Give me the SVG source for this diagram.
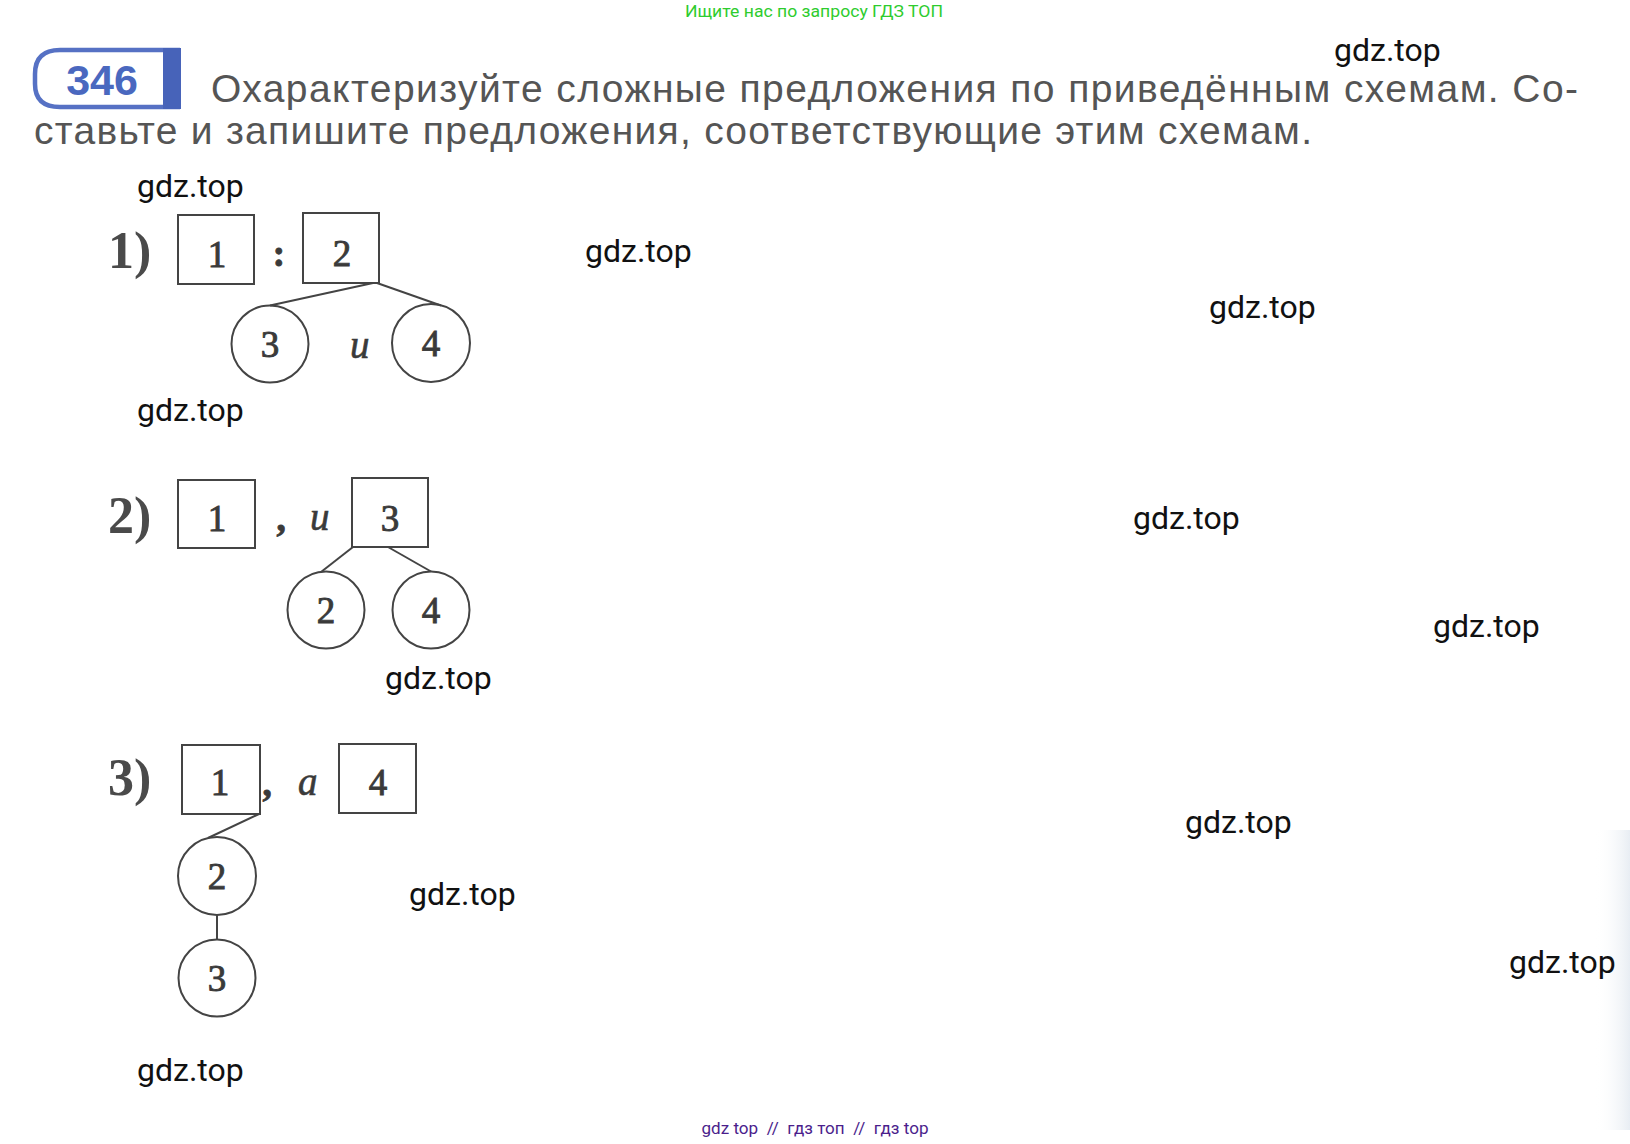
<svg xmlns="http://www.w3.org/2000/svg" width="1630" height="1144" viewBox="0 0 1630 1144">
<defs>
<linearGradient id="edge" x1="0" y1="0" x2="1" y2="0">
<stop offset="0" stop-color="#ffffff" stop-opacity="0"/>
<stop offset="1" stop-color="#e8edf3"/>
</linearGradient>
<style>
.wm{font-family:Roboto,"Noto Sans",sans-serif;font-size:32px;fill:#111}
.title{font-family:"Liberation Sans",Arial,sans-serif;font-size:39px;fill:#555}
.lbl{font-family:"Liberation Serif","Times New Roman",serif;font-size:52px;font-weight:bold;fill:#4a4a4a}
.dig{font-family:"Liberation Serif","Times New Roman",serif;font-size:37px;fill:#3a3a3a;stroke:#3a3a3a;stroke-width:0.9;text-anchor:middle}
.it{font-family:"Liberation Serif","Times New Roman",serif;font-size:39px;font-style:italic;fill:#3a3a3a;stroke:#3a3a3a;stroke-width:0.6}
.box{fill:none;stroke:#444;stroke-width:2}
.circ{fill:none;stroke:#444;stroke-width:2}
.ln{stroke:#444;stroke-width:2;fill:none}
</style>
</defs>
<rect width="1630" height="1144" fill="#ffffff"/>
<rect x="1595" y="830" width="35" height="300" fill="url(#edge)"/>

<text x="814" y="17" text-anchor="middle" textLength="258" lengthAdjust="spacingAndGlyphs" style="font-family:Roboto,sans-serif;font-size:17px;fill:#2ecc2e">Ищите нас по запросу ГДЗ ТОП</text>

<g id="badge">
<path d="M180,50 H60 Q35,50 35,74 V84 Q35,107 60,107 H180" fill="#ffffff" stroke="#5671c4" stroke-width="4.5"/>
<rect x="163" y="48" width="18" height="61" fill="#4763b9"/>
<text x="102" y="95" text-anchor="middle" style="font-family:'Liberation Sans',Arial,sans-serif;font-size:43px;font-weight:bold;fill:#4a68bf">346</text>
</g>

<text class="title" x="211" y="102" textLength="1367" lengthAdjust="spacing">Охарактеризуйте сложные предложения по приведённым схемам. Со-</text>
<text class="title" x="34" y="144" textLength="1278" lengthAdjust="spacing">ставьте и запишите предложения, соответствующие этим схемам.</text>

<g id="scheme1">
<text class="lbl" x="108" y="268">1)</text>
<g id="s1-box1"><rect class="box" x="178" y="215" width="76" height="69"/><text class="dig" x="217" y="267">1</text></g>
<text class="dig" x="279" y="266" style="font-weight:bold">:</text>
<g id="s1-box2"><rect class="box" x="303" y="213" width="76" height="70"/><text class="dig" x="342" y="266">2</text></g>
<g id="s1-c3"><circle class="circ" cx="270" cy="344" r="38.5"/><text class="dig" x="270" y="357">3</text></g>
<text class="it" x="350" y="358">и</text>
<g id="s1-c4"><circle class="circ" cx="431" cy="343" r="39"/><text class="dig" x="431" y="356">4</text></g>
</g>

<g id="scheme2">
<text class="lbl" x="108" y="533">2)</text>
<g id="s2-box1"><rect class="box" x="178" y="480" width="77" height="68"/><text class="dig" x="217" y="531">1</text></g>
<text class="dig" x="281" y="531" style="font-weight:bold">,</text>
<text class="it" x="310" y="530">и</text>
<g id="s2-box3"><rect class="box" x="352" y="478" width="76" height="69"/><text class="dig" x="390" y="531">3</text></g>
<g id="s2-c2"><circle class="circ" cx="326" cy="610" r="38.5"/><text class="dig" x="326" y="623">2</text></g>
<g id="s2-c4"><circle class="circ" cx="431" cy="610" r="38.5"/><text class="dig" x="431" y="623">4</text></g>
</g>

<g id="scheme3">
<text class="lbl" x="108" y="795">3)</text>
<g id="s3-box1"><rect class="box" x="182" y="745" width="78" height="69"/><text class="dig" x="220" y="795">1</text></g>
<text class="dig" x="267" y="796" style="font-weight:bold">,</text>
<text class="it" x="298" y="795">a</text>
<g id="s3-box4"><rect class="box" x="339" y="744" width="77" height="69"/><text class="dig" x="378" y="795">4</text></g>
<g id="s3-c2"><circle class="circ" cx="217" cy="876" r="39"/><text class="dig" x="217" y="889">2</text></g>
<g id="s3-c3"><circle class="circ" cx="217" cy="978" r="38.5"/><text class="dig" x="217" y="991">3</text></g>
</g>

<g id="connectors">
<line class="ln" x1="373" y1="283" x2="270" y2="305.5"/>
<line class="ln" x1="377" y1="283" x2="441" y2="305.5"/>
<line class="ln" x1="353" y1="547" x2="321" y2="572"/>
<line class="ln" x1="388" y1="547" x2="431" y2="571.5"/>
<line class="ln" x1="259" y1="814" x2="208" y2="838"/>
<line class="ln" x1="217" y1="915" x2="217" y2="939.5"/>
</g>

<g id="watermarks">
<text class="wm" x="1334" y="61">gdz.top</text>
<text class="wm" x="137" y="197">gdz.top</text>
<text class="wm" x="585" y="262">gdz.top</text>
<text class="wm" x="1209" y="318">gdz.top</text>
<text class="wm" x="137" y="421">gdz.top</text>
<text class="wm" x="1133" y="529">gdz.top</text>
<text class="wm" x="1433" y="637">gdz.top</text>
<text class="wm" x="385" y="689">gdz.top</text>
<text class="wm" x="1185" y="833">gdz.top</text>
<text class="wm" x="409" y="905">gdz.top</text>
<text class="wm" x="1509" y="973">gdz.top</text>
<text class="wm" x="137" y="1081">gdz.top</text>
</g>

<text x="815" y="1134" text-anchor="middle" textLength="227" lengthAdjust="spacingAndGlyphs" xml:space="preserve" style="font-family:Roboto,sans-serif;font-size:17px;fill:#4b1e8c">gdz top  //  гдз топ  //  гдз top</text>
</svg>
